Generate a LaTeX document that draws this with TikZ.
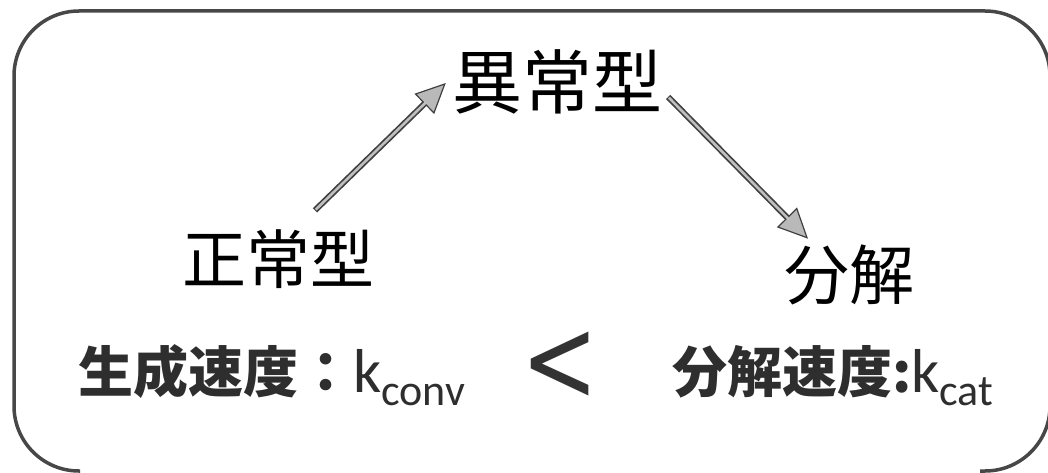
\documentclass[tikz,border=0pt]{standalone}
\usepackage{fontspec}
\usetikzlibrary{arrows.meta}
\newfontfamily\cjk{Noto Sans CJK JP}
\newfontfamily\latf{Carlito}
\newfontfamily\symf{DejaVu Sans}
\tikzset{
  frame/.style={line width=3.5pt, draw=black!72, rounded corners=65pt},
  bigt/.style={inner sep=0pt, font=\cjk\fontsize{#1}{#1}\selectfont, text=black},
  rate/.style={inner sep=0pt, anchor=base west, text=black!82, font=\cjk\bfseries\fontsize{55}{60}\selectfont},
  arr/.style={line width=6pt, draw=black!75,
    -{Triangle[length=30pt,width=28pt,fill=gray!55,line width=1.2pt]},
    postaction={draw=gray!50, line width=2.6pt, -, shorten >=27pt, shorten <=1pt}},
}
\begin{document}
\begin{tikzpicture}[x=1pt,y=-1pt]
\useasboundingbox (0,0) rectangle (1048,473);
% frame (bottom straight edge is not visible in the reference)
\draw[frame] (80,471) -- (14,471) -- (14,11) -- (1050,11) -- (1050,471) -- (980,471);
% labels
\node[bigt=70] (yi) at (557,82) {異常型};
\node[bigt=64] (zheng) at (278,259) {正常型};
\node[bigt=65] (bun) at (849,275) {分解};
% arrows
\draw[arr] ([xshift=37pt,yshift=19pt]zheng.north) -- ([xshift=-6pt,yshift=-1pt]yi.west);
\draw[arr] ([xshift=6pt,yshift=-15pt]yi.east) -- ([xshift=-41pt,yshift=6pt]bun.north);
% rates
\node[rate] (r1) at (78,392) {生成速度：{\latf\mdseries\fontsize{62}{62}\selectfont k}\raisebox{-13pt}{\latf\mdseries\fontsize{44}{44}\selectfont conv}};
\node[inner sep=0pt, text=black!80, font=\symf\fontsize{92}{92}\selectfont] (lt) at (560,367) {\scalebox{1}[1.3]{<}};
\node[rate] (r2) at (672,392) {分解速度:{\latf\mdseries\fontsize{62}{62}\selectfont k}\raisebox{-13pt}{\latf\mdseries\fontsize{44}{44}\selectfont cat}};
\end{tikzpicture}
\end{document}
